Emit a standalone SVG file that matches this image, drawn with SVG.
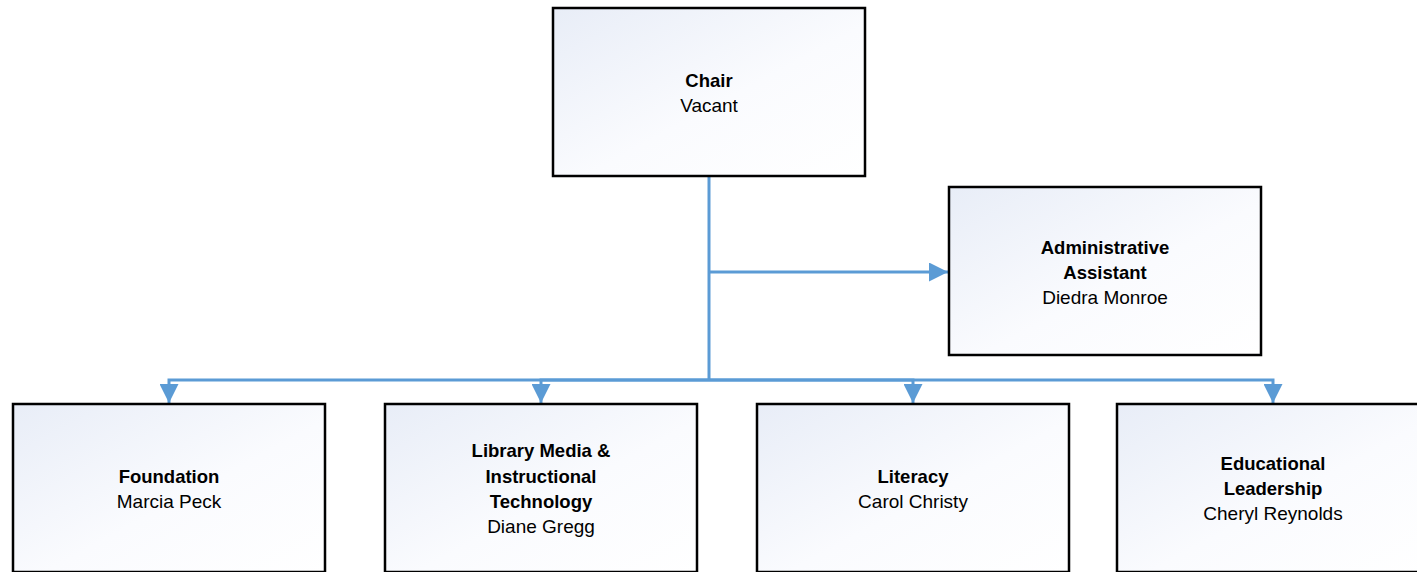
<svg xmlns="http://www.w3.org/2000/svg" width="1417" height="572" viewBox="0 0 1417 572">
<style>
.box{fill:url(#g);stroke:#000;stroke-width:2.5}
.t{font-family:"Liberation Sans",Arial,sans-serif;font-size:18.5px;text-anchor:middle;fill:#000}
.b{font-weight:bold}
.r{font-size:19px}
.c{fill:none;stroke:#5B9BD5;stroke-width:3}
</style>
<defs>
<linearGradient id="g" x1="0" y1="0" x2="1" y2="1">
<stop offset="0" stop-color="#E8EDF7"/>
<stop offset="0.55" stop-color="#FAFBFE"/>
<stop offset="1" stop-color="#FFFFFF"/>
</linearGradient>
<marker id="a" markerUnits="userSpaceOnUse" markerWidth="19" markerHeight="19" viewBox="0 0 19 19" refX="19" refY="9.5" orient="auto">
<path d="M0,0 L19,9.5 L0,19 Z" fill="#5B9BD5"/>
</marker>
</defs>
<g id="connectors">
<path class="c" d="M709,176 V380"/>
<path class="c" d="M709,272 H948" marker-end="url(#a)"/>
<path class="c" d="M709,380 H169 V403" marker-end="url(#a)"/>
<path class="c" d="M709,380 H541 V403" marker-end="url(#a)"/>
<path class="c" d="M709,380 H913 V403" marker-end="url(#a)"/>
<path class="c" d="M709,380 H1273 V403" marker-end="url(#a)"/>
</g>
<g id="chair">
<rect class="box" x="553" y="8" width="312" height="168"/>
<text class="t b" x="709" y="87">Chair</text>
<text class="t r" x="709" y="112">Vacant</text>
</g>
<g id="admin">
<rect class="box" x="949" y="187" width="312" height="168"/>
<text class="t b" x="1105" y="254">Administrative</text>
<text class="t b" x="1105" y="279">Assistant</text>
<text class="t r" x="1105" y="304">Diedra Monroe</text>
</g>
<g id="foundation">
<rect class="box" x="13" y="404" width="312" height="168"/>
<text class="t b" x="169" y="483">Foundation</text>
<text class="t r" x="169" y="508">Marcia Peck</text>
</g>
<g id="library">
<rect class="box" x="385" y="404" width="312" height="168"/>
<text class="t b" x="541" y="457">Library Media &amp;</text>
<text class="t b" x="541" y="483">Instructional</text>
<text class="t b" x="541" y="508">Technology</text>
<text class="t r" x="541" y="533">Diane Gregg</text>
</g>
<g id="literacy">
<rect class="box" x="757" y="404" width="312" height="168"/>
<text class="t b" x="913" y="483">Literacy</text>
<text class="t r" x="913" y="508">Carol Christy</text>
</g>
<g id="edleadership">
<rect class="box" x="1117" y="404" width="312" height="168"/>
<text class="t b" x="1273" y="470">Educational</text>
<text class="t b" x="1273" y="495">Leadership</text>
<text class="t r" x="1273" y="520">Cheryl Reynolds</text>
</g>
</svg>
